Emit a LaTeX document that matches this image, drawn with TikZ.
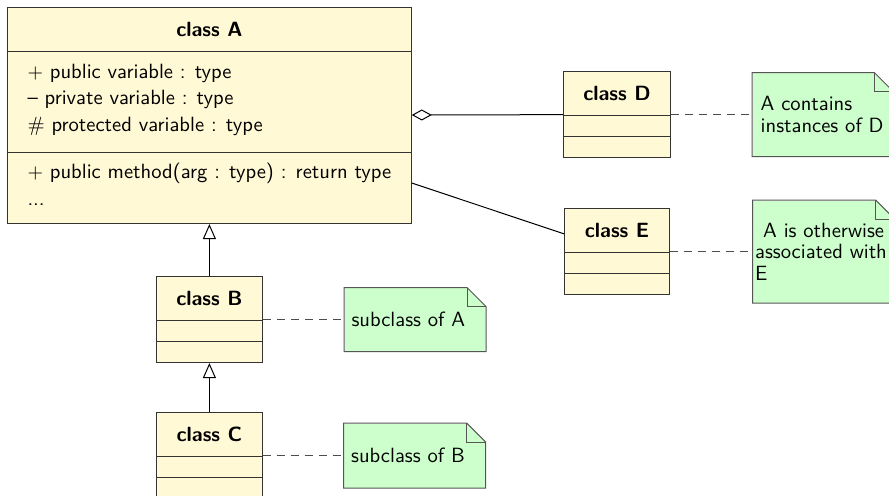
\documentclass[tikz,border=0pt]{standalone}
\usepackage{xcolor}
\usepackage{tikz}
\usetikzlibrary{arrows.meta,positioning,shapes.multipart}

\definecolor{classfill}{HTML}{FFF9D6}
\definecolor{notefill}{HTML}{CCFFCC}
\definecolor{noteline}{HTML}{555555}

\newcommand{\titlestrut}{\rule[-2.5pt]{0pt}{11.5pt}}
\newcommand{\memberstrut}{\rule[-5.25pt]{0pt}{13.25pt}}
\newcommand{\laststrut}{\rule[-4pt]{0pt}{12pt}}
\newcommand{\nomembers}{\nodepart{second}\hphantom{.}\nodepart{third}\hphantom{.}}

\begin{document}
\begin{tikzpicture}[x=0.5pt, y=-0.5pt, line width=0.5pt]
    \tikzstyle{umlclass}=[draw=black!80, fill=classfill, rectangle split, rectangle split parts=3,
        rectangle split part align={center,left,left}, inner xsep=10pt, inner ysep=5pt,
        font=\sffamily\fontsize{10.3}{13.25}\selectfont]
    \tikzstyle{umlnote}=[fill=notefill, inner xsep=3.5pt, text width=63.5pt, align=left,
        font=\sffamily\fontsize{10.3}{10.75}\selectfont]
    \tikzstyle{inherit}=[-{Triangle[open, width=6.5pt, length=7.5pt]}]
    \tikzstyle{aggregate}=[{Diamond[open, width=5.5pt, length=10pt]}-]
    \tikzstyle{notelink}=[draw=black!70, dash pattern=on 4pt off 3pt]

    \useasboundingbox (0,0) rectangle (889,495);

    \node[umlclass, anchor=north west, align=left] (A) at (7,7) {\titlestrut\textbf{class A}
        \nodepart{second}\memberstrut$+$ public variable : type\\
        \memberstrut-- private variable : type\\
        \memberstrut\# protected variable : type
        \nodepart{third}\memberstrut$+$ public method(arg : type) : return type\\
        \laststrut...};
    \node[umlclass] (B) [below=26pt of A] {\titlestrut\textbf{class B}\nomembers};
    \node[umlclass] (C) [below=24.5pt of B] {\titlestrut\textbf{class C}\nomembers};
    \node[umlclass] (D) at (617,114.5) {\titlestrut\textbf{class D}\nomembers};
    \node[umlclass] (E) [below=25pt of D] {\titlestrut\textbf{class E}\nomembers};

    \node[umlnote, minimum height=41.5pt, inner xsep=4pt, text width=62pt] (nD) [right=40.5pt of D]
        {A contains\\instances of D};
    \node[umlnote, minimum height=51pt, inner xsep=1pt, text width=68.5pt] (nE) [right=41.5pt of E]
        {\hspace*{4pt}A is otherwise\\associated with\\E};
    \node[umlnote, minimum height=31.5pt] (nB) [right=40.5pt of B] {subclass of A};
    \node[umlnote, minimum height=32pt] (nC) [right=40.5pt of C] {subclass of B};

    % folded corner of the notes
    \foreach \n in {nB,nC,nD,nE} {
        \fill[white] ([xshift=-9.5pt]\n.north east) -| ([yshift=-9.5pt]\n.north east) -- cycle;
        \draw[noteline] (\n.north west) -- ([xshift=-9.5pt]\n.north east)
            -- ([yshift=-9.5pt]\n.north east) |- (\n.south west) -- cycle;
        \draw[noteline] ([xshift=-9.5pt]\n.north east) |- ([yshift=-9.5pt]\n.north east);
    }

    \path   (B)     edge[inherit]       (A)
            (C)     edge[inherit]       (B)
            (A)     edge[aggregate]     (D)
                    edge                (E)
            (D)     edge[notelink]      (nD)
            (E)     edge[notelink]      (nE)
            (B)     edge[notelink]      (nB)
            (C)     edge[notelink]      (nC);
\end{tikzpicture}
\end{document}
